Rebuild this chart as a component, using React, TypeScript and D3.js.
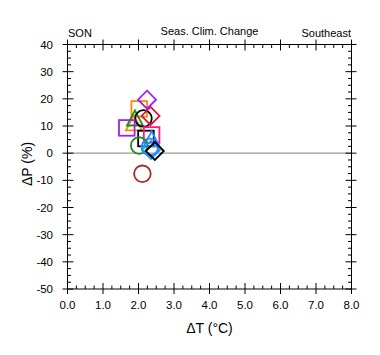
import React from "react";
import * as d3 from "d3";

const xTicks = [0, 1, 2, 3, 4, 5, 6, 7, 8];
const yTicks = [40, 30, 20, 10, 0, -10, -20, -30, -40, -50];

// markers: dT, dP, shape, color (in draw order)
const dT = [2.02, 1.87, 1.9, 2.14, 1.67, 2.34, 2.24, 2.21, 2.37, 2.37, 2.32, 2.02, 2.35, 2.46, 2.11];
const dP = [16.3, 10.4, 12.2, 12.8, 9.3, 13.7, 19.7, 5.4, 6.7, 4.5, 2.3, 2.8, 1.2, 0.8, -7.6];
const shapes = ["square", "triangle", "triangle", "circle", "square", "diamond", "diamond", "square", "square", "triangle", "circle", "circle", "diamond", "diamond", "circle"];
const colors = ["#FF8C00", "#FF8C00", "#228B22", "#000000", "#A020F0", "#DC143C", "#A020F0", "#000000", "#FF1493", "#1E90FF", "#1E90FF", "#228B22", "#1E90FF", "#000000", "#B22222"];

const W = 380, H = 355;
const L = 67.5, R = 351.5, T = 44.5, B = 289;

export default function App() {
  const x = d3.scaleLinear().domain([0, 8]).range([L, R]);
  const y = d3.scaleLinear().domain([-50, 40]).range([B, T]);
  const xMinor = d3.range(0, 8.001, 0.25).filter((v) => Math.abs(v - Math.round(v)) > 1e-6);
  const yMinor = d3.range(-50, 40.001, 2.5).filter((v) => Math.abs(v / 10 - Math.round(v / 10)) > 1e-6);
  const font = "'Liberation Sans', Arial, Helvetica, sans-serif";
  const MI = 6, MO = 5, mi = 3.5;

  const marker = (i: number) => {
    const cx = x(dT[i]);
    const cy = y(dP[i]);
    const s = shapes[i];
    const c = colors[i];
    const common = { fill: "none", stroke: c, strokeWidth: 1.8 };
    if (s === "circle") return <circle key={i} cx={cx} cy={cy} r={8.3} {...common} />;
    if (s === "square") return <rect key={i} x={cx - 7.8} y={cy - 7.8} width={15.6} height={15.6} {...common} />;
    if (s === "diamond")
      return <path key={i} d={`M${cx},${cy - 9}L${cx + 9},${cy}L${cx},${cy + 9}L${cx - 9},${cy}Z`} {...common} />;
    return <path key={i} d={`M${cx},${cy - 9.5}L${cx + 8},${cy + 5.5}L${cx - 8},${cy + 5.5}Z`} {...common} />;
  };

  return (
    <svg width={W} height={H} style={{ position: "absolute", left: 0, top: 0, background: "#fff" }} fontFamily={font}>
      <line x1={L} x2={R} y1={y(0)} y2={y(0)} stroke="#999" strokeWidth={1.3} />
      <g stroke="#000" strokeWidth={1}>
        <rect x={L} y={T} width={R - L} height={B - T} fill="none" />
        {xTicks.map((v) => (
          <g key={"xt" + v}>
            <line x1={x(v)} x2={x(v)} y1={B + MO} y2={B - MI} />
            <line x1={x(v)} x2={x(v)} y1={T - MO} y2={T + MI} />
          </g>
        ))}
        {xMinor.map((v) => (
          <g key={"xm" + v}>
            <line x1={x(v)} x2={x(v)} y1={B} y2={B - mi} />
            <line x1={x(v)} x2={x(v)} y1={T} y2={T + mi} />
          </g>
        ))}
        {yTicks.map((v) => (
          <g key={"yt" + v}>
            <line x1={L - MO} x2={L + MI} y1={y(v)} y2={y(v)} />
            <line x1={R + MO} x2={R - MI} y1={y(v)} y2={y(v)} />
          </g>
        ))}
        {yMinor.map((v) => (
          <g key={"ym" + v}>
            <line x1={L} x2={L + mi} y1={y(v)} y2={y(v)} />
            <line x1={R} x2={R - mi} y1={y(v)} y2={y(v)} />
          </g>
        ))}
      </g>
      {xTicks.map((v) => (
        <text key={"xl" + v} x={x(v)} y={309} fontSize={11.5} textAnchor="middle">
          {v.toFixed(1)}
        </text>
      ))}
      {yTicks.map((v) => (
        <text key={"yl" + v} x={53} y={y(v) + 4} fontSize={11.5} textAnchor="end">
          {v}
        </text>
      ))}
      <text x={209.5} y={333} fontSize={14} textAnchor="middle">ΔT (°C)</text>
      <text transform={`translate(32,164) rotate(-90)`} fontSize={14} textAnchor="middle">ΔP (%)</text>
      <text x={68} y={37} fontSize={11}>SON</text>
      <text x={209.5} y={35} fontSize={11} textAnchor="middle">Seas. Clim. Change</text>
      <text x={351} y={37} fontSize={11} textAnchor="end">Southeast</text>
      {dT.map((_, i) => marker(i))}
    </svg>
  );
}
